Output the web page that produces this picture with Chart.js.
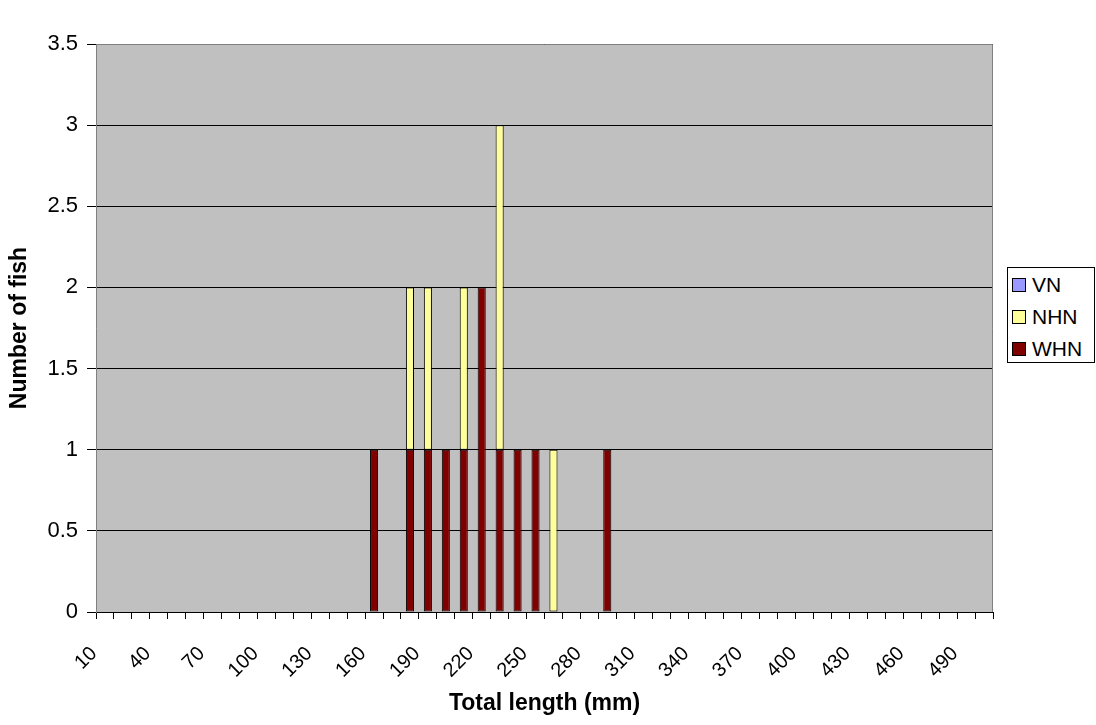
<!DOCTYPE html>
<html>
<head>
<meta charset="utf-8">
<script src="https://cdn.jsdelivr.net/npm/chart.js@4"></script>
<style>
  body { margin: 0; background: #fff; font-family: "Liberation Sans", Arial, sans-serif; }
  #wrap { position: relative; width: 1096px; height: 725px; }
  #legend {
    position: absolute; left: 1007px; top: 267px; width: 88px; height: 96px;
    border: 1px solid #000; background: #fff; box-sizing: border-box;
    padding: 1px 0 0 4px; font-size: 21px; color: #000;
  }
  #legend div { height: 32px; line-height: 32px; display: flex; align-items: center; }
  #legend span.box { display: inline-block; width: 12px; height: 12px; border: 1px solid #000; margin-right: 6px; }
</style>
</head>
<body>
<div id="wrap">
  <canvas id="chart" width="1096" height="725"></canvas>
  <div id="legend"></div>
</div>
<script>
// categories: total length classes (mm)
const lengths = [];
for (let v = 10; v <= 500; v += 10) lengths.push(v);

// counts per length class
const whn = [0,0,0,0,0,0,0,0,0,0, 0,0,0,0,0,1,0,1,1,1, 1,2,1,1,1,0,0,0,1,0, 0,0,0,0,0,0,0,0,0,0, 0,0,0,0,0,0,0,0,0,0];
const nhn = [0,0,0,0,0,0,0,0,0,0, 0,0,0,0,0,0,0,1,1,0, 1,0,2,0,0,1,0,0,0,0, 0,0,0,0,0,0,0,0,0,0, 0,0,0,0,0,0,0,0,0,0];
const vn  = [0,0,0,0,0,0,0,0,0,0, 0,0,0,0,0,0,0,0,0,0, 0,0,0,0,0,0,0,0,0,0, 0,0,0,0,0,0,0,0,0,0, 0,0,0,0,0,0,0,0,0,0];

const seriesNames = ["WHN", "NHN", "VN"];
const seriesColors = ["#800000", "#FFFF99", "#9999FF"];
const seriesData = [whn, nhn, vn];

const font = "'Liberation Sans', Arial, sans-serif";

const plotBg = {
    id: "plotBg",
    beforeDraw(chart) {
        const { ctx, chartArea: a } = chart;
        ctx.save();
        ctx.fillStyle = "#C0C0C0";
        ctx.fillRect(a.left, a.top, a.right - a.left, a.bottom - a.top);
        ctx.restore();
    },
    afterDatasetsDraw(chart) {
        const { ctx, chartArea: a } = chart;
        ctx.save();
        ctx.strokeStyle = "#808080";
        ctx.lineWidth = 1;
        ctx.beginPath();
        ctx.moveTo(a.left, a.top + 0.5);
        ctx.lineTo(a.right - 0.5, a.top + 0.5);
        ctx.lineTo(a.right - 0.5, a.bottom);
        ctx.stroke();
        ctx.restore();
    }
};

new Chart(document.getElementById("chart"), {
    type: "bar",
    data: {
        labels: lengths,
        datasets: seriesNames.map((name, i) => ({
            label: name,
            data: seriesData[i].map(v => v || null),
            backgroundColor: seriesColors[i],
            borderColor: "#000",
            borderWidth: 1,
            borderSkipped: false,
            barPercentage: 0.45,
            categoryPercentage: 1
        }))
    },
    options: {
        responsive: false,
        animation: false,
        layout: { padding: { left: 0, right: 103, top: 44, bottom: 0 } },
        plugins: {
            legend: { display: false },
            tooltip: { enabled: false }
        },
        scales: {
            x: {
                stacked: true,
                afterFit: s => { s.height = 113; },
                grid: { offset: true, drawOnChartArea: false, color: "#000", tickLength: 7 },
                border: { color: "#000" },
                ticks: {
                    autoSkip: false,
                    maxRotation: 45,
                    minRotation: 45,
                    padding: 23,
                    labelOffset: -11,
                    color: "#000",
                    font: { family: font, size: 20 },
                    callback: (val, idx) => idx % 3 === 0 ? lengths[idx] : ""
                },
                title: {
                    display: true,
                    text: "Total length (mm)",
                    color: "#000",
                    font: { family: font, size: 23, weight: "bold" },
                    padding: { top: 0, bottom: 8 }
                }
            },
            y: {
                stacked: true,
                min: 0,
                max: 3.5,
                afterFit: s => { s.width = 96; },
                grid: { color: "#000", tickLength: 9 },
                border: { color: "#808080" },
                ticks: {
                    stepSize: 0.5,
                    color: "#000",
                    font: { family: font, size: 22 },
                    padding: 9,
                    callback: v => String(v)
                },
                title: {
                    display: true,
                    text: "Number of fish",
                    color: "#000",
                    font: { family: font, size: 23, weight: "bold" },
                    padding: { top: 6, bottom: 0 }
                }
            }
        }
    },
    plugins: [plotBg]
});

// legend, listed top series first as in the original
const legend = document.getElementById("legend");
[2, 1, 0].forEach(i => {
    const row = document.createElement("div");
    row.innerHTML = `<span class="box" style="background:${seriesColors[i]}"></span>${seriesNames[i]}`;
    legend.appendChild(row);
});
</script>
</body>
</html>
